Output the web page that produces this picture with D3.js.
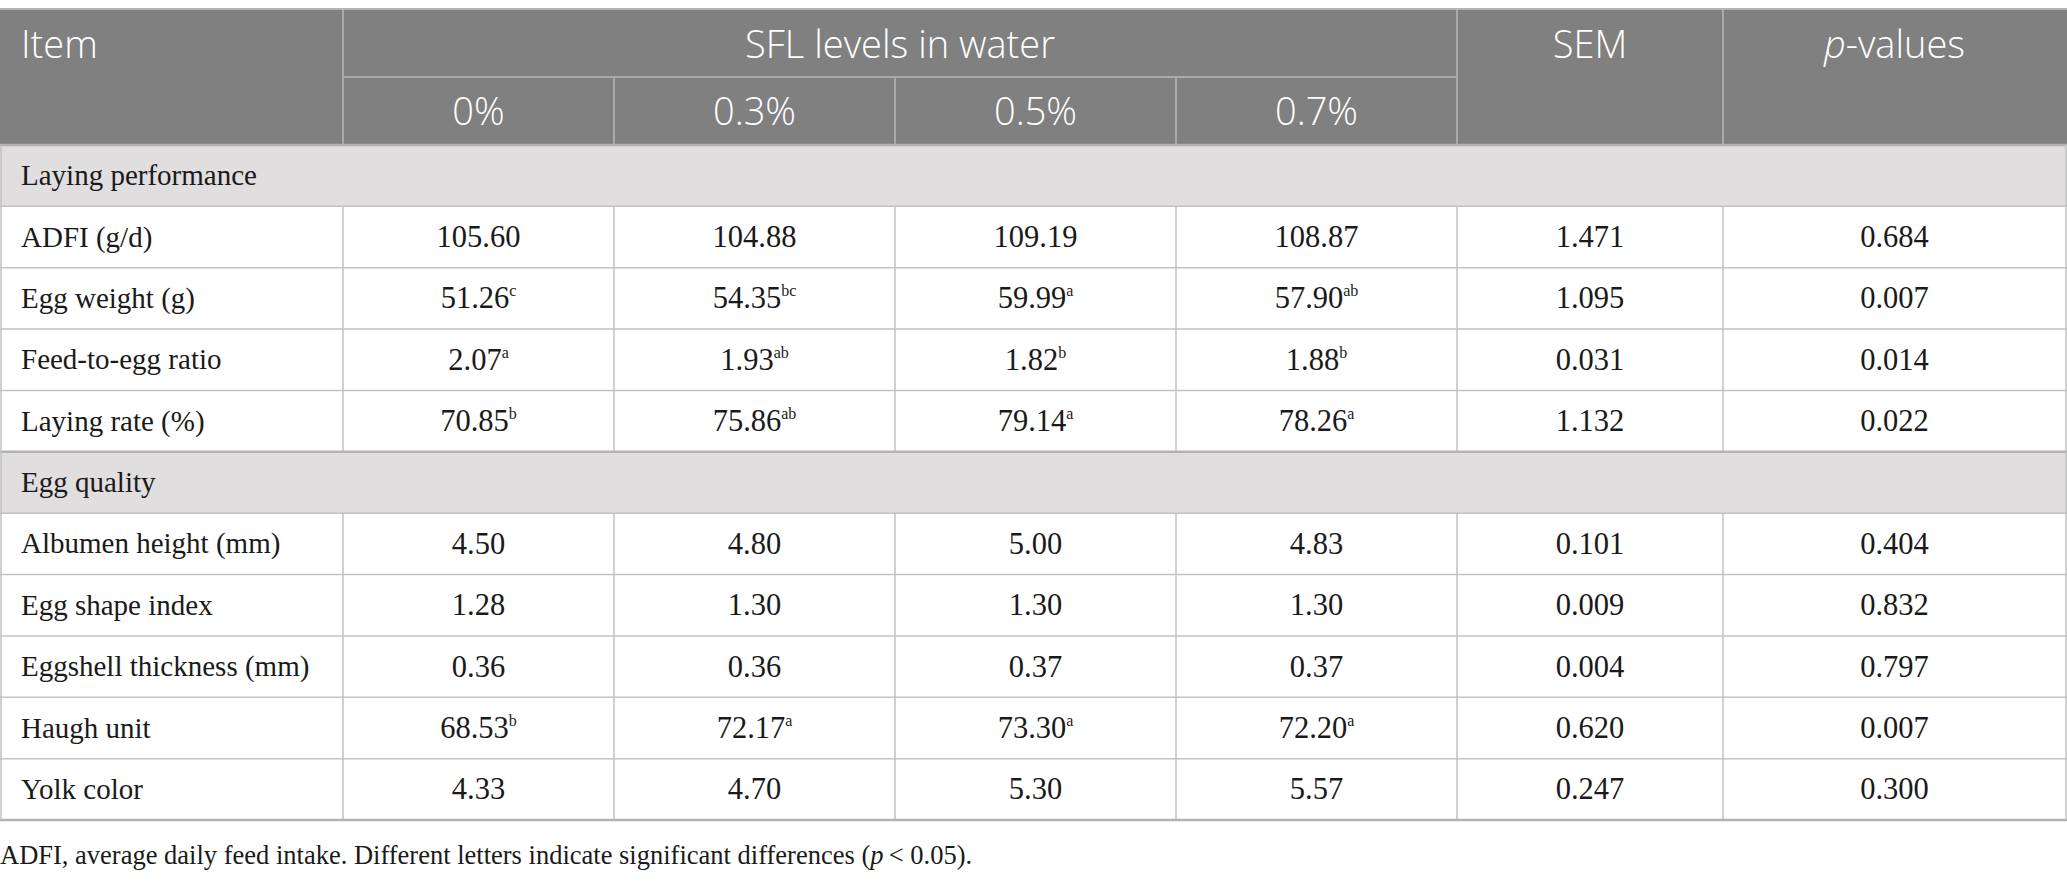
<!DOCTYPE html>
<html>
<head>
<meta charset="utf-8">
<script src="https://cdn.jsdelivr.net/npm/d3@7"></script>
<style>
  body { margin: 0; background: #fff; }
  svg { display: block; }
  .hd { font-family: "Open Sans", "Noto Sans", sans-serif; font-weight: 300; fill: #fff; }
  .bd { font-family: "Liberation Serif", "DejaVu Serif", serif; fill: #1a1a1a; }
</style>
</head>
<body>
<svg width="2067" height="885"></svg>
<script>
// table content
const columns = ["Item", "0%", "0.3%", "0.5%", "0.7%", "SEM", "p-values"];
const levels = ["0%", "0.3%", "0.5%", "0.7%"];
const sections = ["Laying performance", "Egg quality"];
const items = [
  "ADFI (g/d)", "Egg weight (g)", "Feed-to-egg ratio", "Laying rate (%)",
  "Albumen height (mm)", "Egg shape index", "Eggshell thickness (mm)", "Haugh unit", "Yolk color"
];
const itemSection = [0, 0, 0, 0, 1, 1, 1, 1, 1];

const lvl0 = ["105.60", "51.26", "2.07", "70.85", "4.50", "1.28", "0.36", "68.53", "4.33"];
const lvl3 = ["104.88", "54.35", "1.93", "75.86", "4.80", "1.30", "0.36", "72.17", "4.70"];
const lvl5 = ["109.19", "59.99", "1.82", "79.14", "5.00", "1.30", "0.37", "73.30", "5.30"];
const lvl7 = ["108.87", "57.90", "1.88", "78.26", "4.83", "1.30", "0.37", "72.20", "5.57"];
const sup0 = ["", "c", "a", "b", "", "", "", "b", ""];
const sup3 = ["", "bc", "ab", "ab", "", "", "", "a", ""];
const sup5 = ["", "a", "b", "a", "", "", "", "a", ""];
const sup7 = ["", "ab", "b", "a", "", "", "", "a", ""];
const sem = ["1.471", "1.095", "0.031", "1.132", "0.101", "0.009", "0.004", "0.620", "0.247"];
const pValues = ["0.684", "0.007", "0.014", "0.022", "0.404", "0.832", "0.797", "0.007", "0.300"];

const footnote = "ADFI, average daily feed intake. Different letters indicate significant differences (";

const svg = d3.select("svg");
const W = 2067;

// column edges
const colEdges = [0, 343, 614, 895, 1176, 1457, 1723, W - 1];
const x = d3.scaleOrdinal().domain(columns).range(colEdges.slice(0, 7));
const xEnd = d3.scaleOrdinal().domain(columns).range(colEdges.slice(1));
const xMid = c => (x(c) + xEnd(c)) / 2;

// body rows: section rows and item rows in order
const bodyRows = [];
sections.forEach((s, si) => {
  bodyRows.push({ type: "section", label: s, key: "s" + si });
  items.forEach((it, i) => {
    if (itemSection[i] === si) bodyRows.push({ type: "item", label: it, i, key: "i" + i });
  });
});

const yHead = d3.scaleBand().domain(["h1", "h2"]).range([9, 145]);
const y = d3.scaleBand().domain(bodyRows.map(d => d.key)).range([145, 820]);

const lvlVals = [lvl0, lvl3, lvl5, lvl7];
const lvlSups = [sup0, sup3, sup5, sup7];

// header background
svg.append("rect").attr("x", 0).attr("y", yHead("h1"))
  .attr("width", W).attr("height", 136).attr("fill", "#7f807f");

// section backgrounds
svg.append("g").selectAll("rect")
  .data(bodyRows.filter(d => d.type === "section"))
  .join("rect")
  .attr("x", 0).attr("y", d => y(d.key))
  .attr("width", W).attr("height", y.bandwidth())
  .attr("fill", "#e0dedf");

// header grid lines
const hline = "#a9aaa9";
const hg = svg.append("g").attr("stroke", hline).attr("stroke-width", 2);
hg.append("line").attr("x1", x("0%")).attr("x2", x("SEM"))
  .attr("y1", yHead("h2")).attr("y2", yHead("h2"));
hg.selectAll("line.v1")
  .data(["0%", "SEM", "p-values"])
  .join("line").attr("class", "v1")
  .attr("x1", d => x(d)).attr("x2", d => x(d))
  .attr("y1", yHead("h1")).attr("y2", 145);
hg.selectAll("line.v2")
  .data(["0.3%", "0.5%", "0.7%"])
  .join("line").attr("class", "v2")
  .attr("x1", d => x(d)).attr("x2", d => x(d))
  .attr("y1", yHead("h2")).attr("y2", 145);

// body grid
const bg = svg.append("g").attr("stroke", "#c2c2c2").attr("stroke-width", 1.5);
const itemRows = bodyRows.filter(d => d.type === "item");
columns.slice(1).forEach(c => {
  bg.selectAll(null).data(itemRows).join("line")
    .attr("x1", x(c)).attr("x2", x(c))
    .attr("y1", d => y(d.key)).attr("y2", d => y(d.key) + y.bandwidth());
});
bg.selectAll(null).data(bodyRows).join("line")
  .attr("x1", 0).attr("x2", W)
  .attr("y1", d => y(d.key)).attr("y2", d => y(d.key))
  .attr("stroke", d => d.type === "section" ? "#b2b2b2" : "#c2c2c2")
  .attr("stroke-width", d => d.type === "section" ? 2.5 : 1.5);
bg.append("line").attr("x1", 0).attr("x2", W).attr("y1", 820).attr("y2", 820)
  .attr("stroke", "#b2b2b2").attr("stroke-width", 2.5);
// outer frame
bg.append("line").attr("x1", 1).attr("x2", 1).attr("y1", 145).attr("y2", 820);
bg.append("line").attr("x1", W - 1).attr("x2", W - 1).attr("y1", 145).attr("y2", 820);
svg.append("line").attr("x1", 0).attr("x2", W).attr("y1", 9).attr("y2", 9)
  .attr("stroke", "#b5b5b5").attr("stroke-width", 2);

// header text
const hfs = 38;
const ht = svg.append("g").attr("class", "hd").style("font-size", hfs + "px");
const h1c = yHead("h1") + yHead.bandwidth() / 2 + 2;
const h2c = yHead("h2") + yHead.bandwidth() / 2 + 1;
ht.append("text").attr("x", 21).attr("y", h1c).attr("dy", "0.35em").text("Item");
ht.append("text").attr("x", (x("0%") + x("SEM")) / 2).attr("y", h1c)
  .attr("dy", "0.35em").attr("text-anchor", "middle").text("SFL levels in water");
ht.append("text").attr("x", xMid("SEM")).attr("y", h1c)
  .attr("dy", "0.35em").attr("text-anchor", "middle").text("SEM");
const pv = ht.append("text").attr("x", xMid("p-values")).attr("y", h1c)
  .attr("dy", "0.35em").attr("text-anchor", "middle");
pv.append("tspan").style("font-style", "italic").text("p");
pv.append("tspan").text("-values");
ht.selectAll("text.lv").data(levels).join("text").attr("class", "lv")
  .attr("x", d => xMid(d)).attr("y", h2c).attr("dy", "0.35em")
  .attr("text-anchor", "middle").text(d => d);

// body text
const bfs = 29;
const nfs = 30.5;
const bt = svg.append("g").attr("class", "bd").style("font-size", bfs + "px");
bt.selectAll("text.lab").data(bodyRows).join("text").attr("class", "lab")
  .attr("x", 21).attr("y", d => y(d.key) + y.bandwidth() / 2).attr("dy", "0.33em")
  .text(d => d.label);

levels.forEach((lv, k) => {
  const t = bt.selectAll(null).data(itemRows).join("text")
    .attr("x", xMid(lv)).attr("y", d => y(d.key) + y.bandwidth() / 2).attr("dy", "0.33em")
    .attr("text-anchor", "middle").style("font-size", nfs + "px");
  t.append("tspan").text(d => lvlVals[k][d.i]);
  t.append("tspan").attr("dy", "-0.75em").style("font-size", "16px")
    .text(d => lvlSups[k][d.i]);
});
[["SEM", sem], ["p-values", pValues]].forEach(([c, arr]) => {
  bt.selectAll(null).data(itemRows).join("text")
    .attr("x", xMid(c)).attr("y", d => y(d.key) + y.bandwidth() / 2).attr("dy", "0.33em")
    .attr("text-anchor", "middle").style("font-size", nfs + "px").text(d => arr[d.i]);
});

// footnote
const fn = svg.append("text").attr("class", "bd").style("font-size", "26.5px")
  .attr("x", 0).attr("y", 855).attr("dy", "0.33em");
fn.append("tspan").text(footnote);
fn.append("tspan").style("font-style", "italic").text("p");
fn.append("tspan").text("\u2009< 0.05).");
</script>
</body>
</html>
